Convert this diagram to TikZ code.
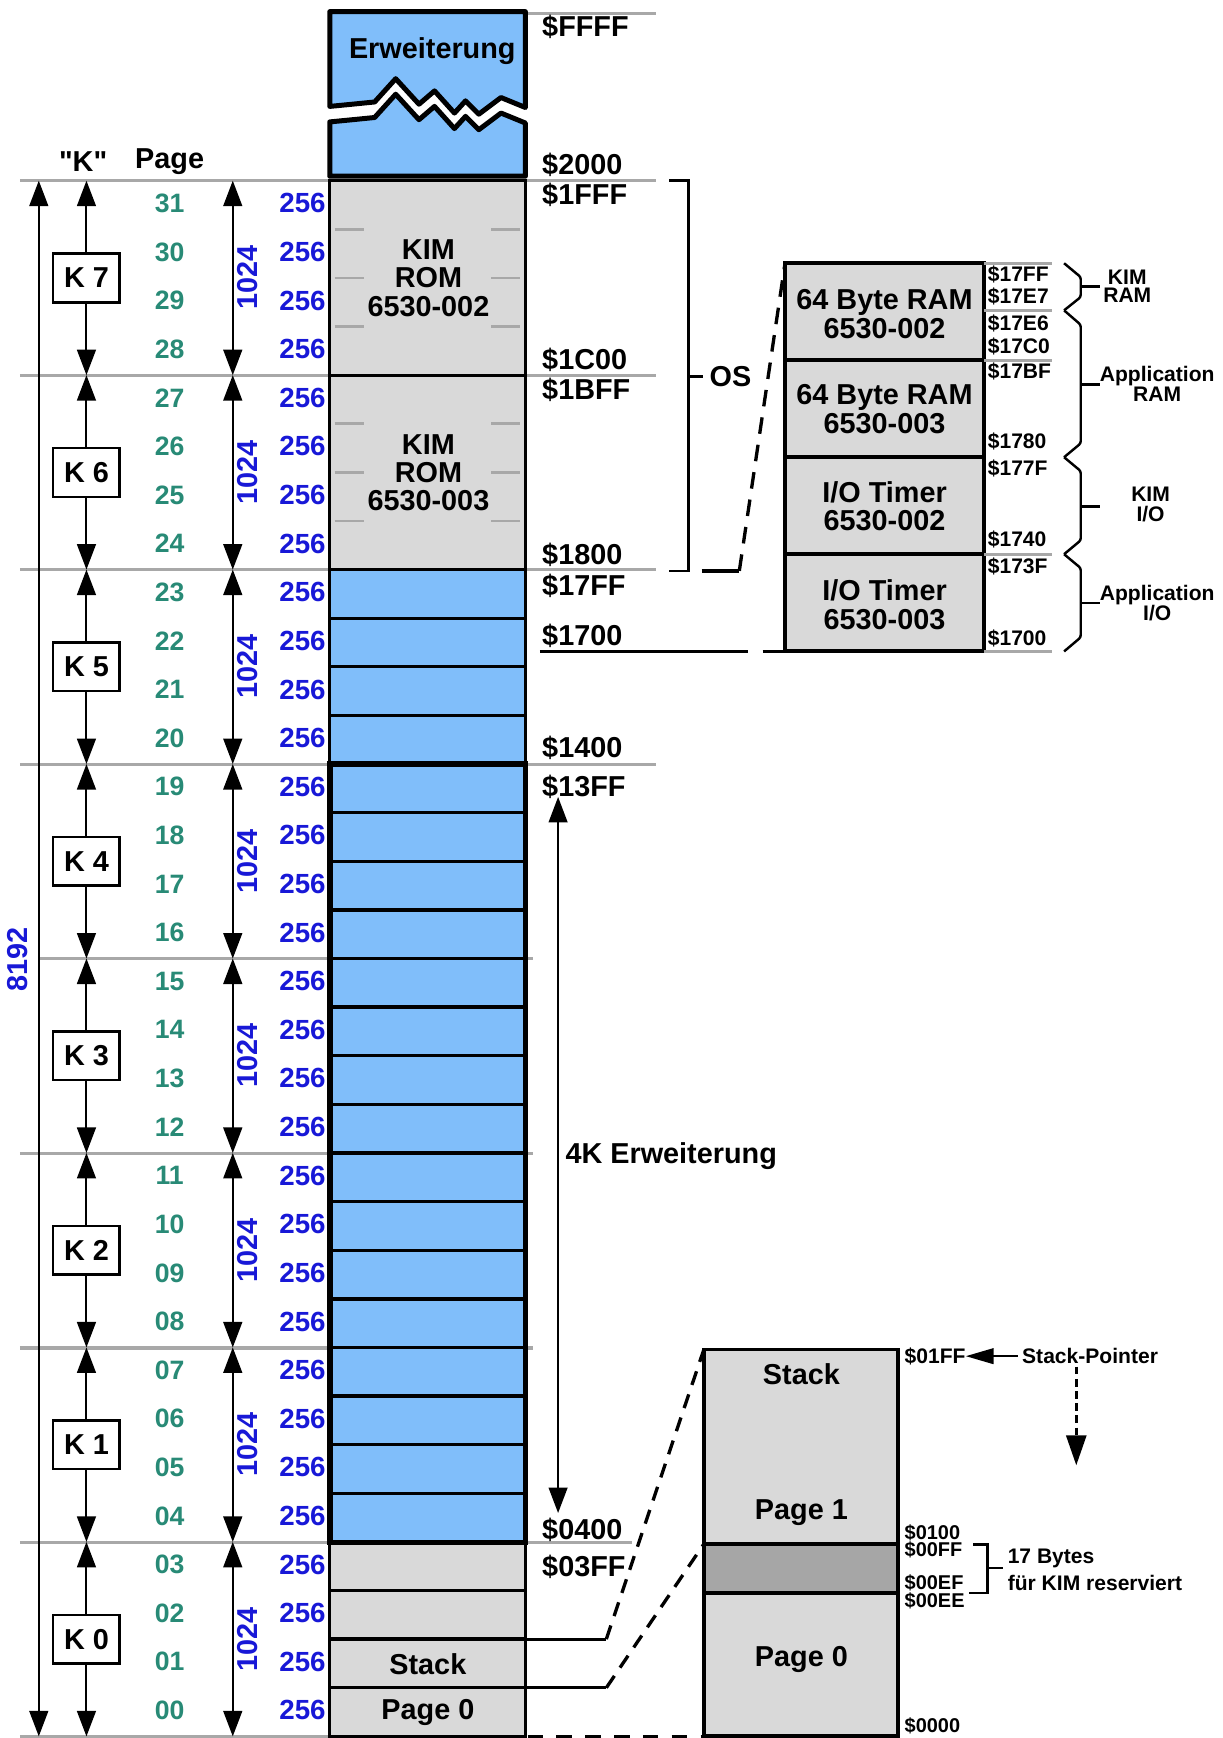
\documentclass[tikz,border=0pt]{standalone}
\usepackage{fontspec}
\setmainfont{Liberation Sans}
\newfontfamily\plainsans{Liberation Sans}
\usetikzlibrary{arrows.meta}
\definecolor{memblue}{RGB}{128,190,250}
\definecolor{memgray}{RGB}{217,217,217}
\definecolor{banddark}{RGB}{166,166,166}
\definecolor{gridgray}{RGB}{168,168,168}
\definecolor{pagegreen}{RGB}{40,138,118}
\definecolor{sizeblue}{RGB}{24,24,215}
\newcommand\myfs[2]{\fontsize{#1}{#2}\selectfont\bfseries}
\tikzset{
  bigtri/.tip={Triangle[length=23pt,width=17pt]},
  midtri/.tip={Triangle[length=25pt,width=14pt]},
  arr/.style={line width=1.8pt,-{bigtri}},
  dbl/.style={line width=1.8pt,{bigtri}-{bigtri}},
  gridline/.style={draw=gridgray,line width=3pt},
  romtick/.style={draw=gridgray,line width=2.5pt},
  cell/.style={draw=black,line width=3pt},
  addr/.style={anchor=west,font=\myfs{26}{26}},
  lbl/.style={font=\myfs{26}{25.5},align=center},
  pagenum/.style={font=\myfs{24}{24},text=pagegreen},
  bytenum/.style={anchor=east,font=\myfs{25}{25},text=sizeblue},
  rotnum/.style={rotate=90,font=\myfs{26}{26},text=sizeblue},
  kbox/.style={draw,line width=2.2pt,fill=white,minimum width=60pt,minimum height=44pt,font=\myfs{26}{26}},
  smalladdr/.style={anchor=west,font=\myfs{19}{19}},
  tinyaddr/.style={anchor=west,font=\myfs{18}{18}},
  note/.style={font=\myfs{19}{16.5},align=center},
  bracketline/.style={line width=2.2pt},
  dashup/.style={line width=3pt,dash pattern=on 15pt off 10pt},
  dashlow/.style={line width=3pt,dash pattern=on 13pt off 9pt},
}
\begin{document}
\begin{tikzpicture}[x=1pt,y=-1pt,every node/.style={inner sep=0pt}]
\useasboundingbox (0,0) rectangle (1103,1568);

% ---------- gray boundary lines ----------
\foreach \ya/\xa/\xb in {163/18/592, 338.5/18/592, 514/18/592, 689.5/18/592, 865/35/481, 1040.5/18/481, 1216/18/481, 1391.5/18/570, 1566.5/18/474}
  \draw[gridline] (\xa,\ya) -- (\xb,\ya);
\draw[gridline] (474,12) -- (592,12);

% ---------- Erweiterung box with break ----------
\filldraw[fill=memblue,line width=4.5pt,line join=round]
  (297.5,10.5) -- (474,10.5) -- (474,97) -- (452,88) -- (432,103) -- (420,91) -- (410,102)
  -- (392,82) -- (378,94) -- (357,71) -- (338,92) -- (318,94) -- (297.5,96) -- cycle;
\filldraw[fill=memblue,line width=4.5pt,line join=round]
  (297.5,110) -- (318,108) -- (338,106) -- (357,85) -- (378,108) -- (392,96) -- (410,116)
  -- (420,105) -- (432,117) -- (452,102) -- (474,111) -- (474,159) -- (297.5,159) -- cycle;
\node[lbl] (erw) at (390,46) {Erweiterung};

% ---------- memory column ----------
\foreach \n in {0,...,23}{
  \pgfmathsetmacro\yt{163+(31-\n)*43.86}
  \pgfmathsetmacro\yb{163+(32-\n)*43.86}
  \ifnum\n<4 \def\cc{memgray}\else\def\cc{memblue}\fi
  \filldraw[cell,fill=\cc] (297.5,\yt) rectangle (474,\yb);
}
\filldraw[cell,fill=memgray] (297.5,163) rectangle (474,338.5);
\filldraw[cell,fill=memgray] (297.5,338.5) rectangle (474,514);
\foreach \y in {206.86,250.72,294.58,382.36,426.22,470.08}{
  \draw[romtick] (302,\y) -- (328,\y);
  \draw[romtick] (443,\y) -- (469,\y);
}
\draw[line width=5pt] (297.5,689.5) rectangle (474,1391.5);
\node[lbl] (rom7) at (386.5,251) {KIM\\ROM\\6530-002};
\node[lbl] (rom6) at (386.5,426.5) {KIM\\ROM\\6530-003};
\node[lbl] (mstack) at (386,1501) {Stack};
\node[lbl] (mpage0) at (386,1545) {Page 0};

% ---------- headings ----------
\node[lbl] (hK) at (75,146) {{\plainsans\bfseries "K"}};
\node[lbl] (hPage) at (153,146) {Page};

% ---------- page numbers and sizes ----------
\foreach \n in {0,...,31}{
  \pgfmathsetmacro\yc{163+(31.5-\n)*43.86-1.5}
  \node[pagenum] (pg\n) at (153,\yc) {\ifnum\n<10 0\fi\n};
  \node[bytenum] (by\n) at (294,\yc) {256};
}

% ---------- K blocks ----------
\foreach \k in {0,...,7}{
  \pgfmathsetmacro\yt{163+(7-\k)*175.44}
  \pgfmathsetmacro\yb{\yt+175.44}
  \pgfmathsetmacro\yc{\yt+87.72}
  \node[kbox] (K\k) at (78,\yc) {K \k};
  \coordinate (kt\k) at (78,\yt);
  \coordinate (kb\k) at (78,\yb);
  \draw[arr] (K\k.north) -- (kt\k);
  \draw[arr] (K\k.south) -- (kb\k);
  \coordinate (st\k) at (210,\yt);
  \coordinate (sb\k) at (210,\yb);
  \draw[dbl] (st\k) -- (sb\k);
  \node[rotnum] (kk\k) at (223,\yc) {1024};
}
\coordinate (allt) at (35,163);
\coordinate (allb) at (35,1566.5);
\draw[dbl] (allt) -- (allb);
\node[rotnum] (n8192) at (16,866) {8192};

% ---------- addresses ----------
\node[addr] (aFFFF) at (489,24) {\$FFFF};
\node[addr] (a2000) at (489,149) {\$2000};
\node[addr] (a1FFF) at (489,176) {\$1FFF};
\node[addr] (a1C00) at (489,325) {\$1C00};
\node[addr] (a1BFF) at (489,352) {\$1BFF};
\node[addr] (a1800) at (489,500.5) {\$1800};
\node[addr] (a17FF) at (489,529) {\$17FF};
\node[addr] (a1700) at (489,574) {\$1700};
\node[addr] (a1400) at (489,675) {\$1400};
\node[addr] (a13FF) at (489,709.5) {\$13FF};
\node[addr] (a0400) at (489,1380) {\$0400};
\node[addr] (a03FF) at (489,1414) {\$03FF};

% ---------- 4K arrow ----------
\coordinate (k4t) at (503.5,719);
\coordinate (k4b) at (503.5,1365);
\draw[dbl,line width=1.6pt] (k4t) -- (k4b);
\node[addr] (k4txt) at (510,1043) {4K Erweiterung};

% ---------- OS bracket ----------
\draw[bracketline] (604,163) -- (621,163) -- (621,515) -- (604,515);
\draw[bracketline] (621,339.5) -- (634,339.5);
\node[lbl] (os) at (659,339.5) {OS};

% ---------- detail box (upper right) ----------
\foreach \ya/\yb in {237.5/325, 325/412.5, 412.5/500, 500/587.7}
  \filldraw[fill=memgray,line width=3.5pt] (708,\ya) rectangle (888,\yb);
\node[lbl] (d1) at (798,283.3) {64 Byte RAM\\6530-002};
\node[lbl] (d2) at (798,369) {64 Byte RAM\\6530-003};
\node[lbl] (d3) at (798,457) {I/O Timer\\6530-002};
\node[lbl] (d4) at (798,545.6) {I/O Timer\\6530-003};
\foreach \y in {237.5,280,325,500,587.7}
  \draw[gridline] (888,\y) -- (949,\y);
\node[smalladdr] (b17FF) at (891,248) {\$17FF};
\node[smalladdr] (b17E7) at (891,267.6) {\$17E7};
\node[smalladdr] (b17E6) at (891,291.6) {\$17E6};
\node[smalladdr] (b17C0) at (891,312.7) {\$17C0};
\node[smalladdr] (b17BF) at (891,335.2) {\$17BF};
\node[smalladdr] (b1780) at (891,398.3) {\$1780};
\node[smalladdr] (b177F) at (891,422.4) {\$177F};
\node[smalladdr] (b1740) at (891,487) {\$1740};
\node[smalladdr] (b173F) at (891,511) {\$173F};
\node[smalladdr] (b1700) at (891,575.7) {\$1700};

% braces
\draw[bracketline,rounded corners=2pt] (960,237.5) -- (975,250) -- (975,268) -- (960,280);
\draw[bracketline] (975,258.5) -- (992,258.5);
\draw[bracketline,rounded corners=2pt] (960,280) -- (975,293) -- (975,400) -- (960,412.5);
\draw[bracketline] (975,347) -- (992,347);
\draw[bracketline,rounded corners=2pt] (960,412.5) -- (975,425) -- (975,487.5) -- (960,500);
\draw[bracketline] (975,457) -- (992,457);
\draw[bracketline,rounded corners=2pt] (960,500) -- (975,512.5) -- (975,575) -- (960,587.7);
\draw[bracketline] (975,544) -- (992,544);
\node[note] (nKR) at (1017,258) {KIM\\RAM};
\node[note] (nAR) at (1044,346.5) {Application\\RAM};
\node[note,font=\myfs{19}{18}] (nKI) at (1038,455.5) {KIM\\I/O};
\node[note,font=\myfs{19}{15}] (nAI) at (1044,544) {Application\\I/O};

% connectors to detail box
\coordinate (osA) at (633,515);
\coordinate (osB) at (667,515);
\coordinate (dTL) at (708,239);
\draw[line width=3pt] (osA) -- (osB);
\draw[dashup] (osB) -- (dTL);
\coordinate (u1700a) at (487,588);
\coordinate (u1700b) at (675,588);
\coordinate (u1700c) at (688,588);
\coordinate (dBL) at (708,588);
\draw[line width=2.5pt] (u1700a) -- (u1700b);
\draw[line width=2.5pt] (u1700c) -- (dBL);

% ---------- lower detail box ----------
\filldraw[fill=memgray,line width=3.5pt] (635,1217.5) rectangle (810,1393);
\filldraw[fill=banddark,line width=3.5pt] (635,1393) rectangle (810,1437);
\filldraw[fill=memgray,line width=3.5pt] (635,1437) rectangle (810,1566.5);
\node[lbl] (lbstack) at (723,1240) {Stack};
\node[lbl] (lbp1) at (723,1365) {Page 1};
\node[lbl] (lbp0) at (723,1497) {Page 0};

\node[smalladdr] (c01FF) at (816,1223.5) {\$01FF};
\node[smalladdr] (sp) at (922,1223.5) {Stack-Pointer};
\draw[line width=2pt,-{midtri}] ([xshift=-4pt]sp.west) -- (c01FF.east);
\coordinate (spd1) at (971,1233);
\coordinate (spd2) at (971,1322);
\draw[line width=2.5pt,dash pattern=on 7pt off 4pt,-{Triangle[length=27pt,width=18pt]}] (spd1) -- (spd2);

\node[tinyaddr] (c0100) at (816,1383) {\$0100};
\node[tinyaddr] (c00FF) at (816,1398) {\$00FF};
\node[tinyaddr] (c00EF) at (816,1428) {\$00EF};
\node[tinyaddr] (c00EE) at (816,1444.5) {\$00EE};
\node[tinyaddr] (c0000) at (816,1557) {\$0000};
\draw[bracketline] (878,1393.4) -- (891,1393.4) -- (891,1437) -- (874,1437);
\draw[bracketline] (891,1414.4) -- (905,1414.4);
\node[smalladdr] (n17) at (909,1406) {17 Bytes};
\node[smalladdr] (nfk) at (909,1428) {für KIM reserviert};

% connectors from column to lower box
\coordinate (stkR) at (474,1478.8);
\coordinate (stkC) at (547,1478.8);
\coordinate (lbT) at (635,1217.5);
\draw[line width=2.5pt] (stkR) -- (stkC);
\draw[dashlow] (stkC) -- (lbT);
\coordinate (p0R) at (474,1522.7);
\coordinate (p0C) at (547,1522.7);
\coordinate (lbM) at (635,1393);
\draw[line width=2.5pt] (p0R) -- (p0C);
\draw[dashlow] (p0C) -- (lbM);
\coordinate (btR) at (476,1566.5);
\coordinate (lbB) at (635,1566.5);
\draw[line width=3pt,dash pattern=on 14pt off 12pt] (btR) -- (lbB);
\end{tikzpicture}
\end{document}
